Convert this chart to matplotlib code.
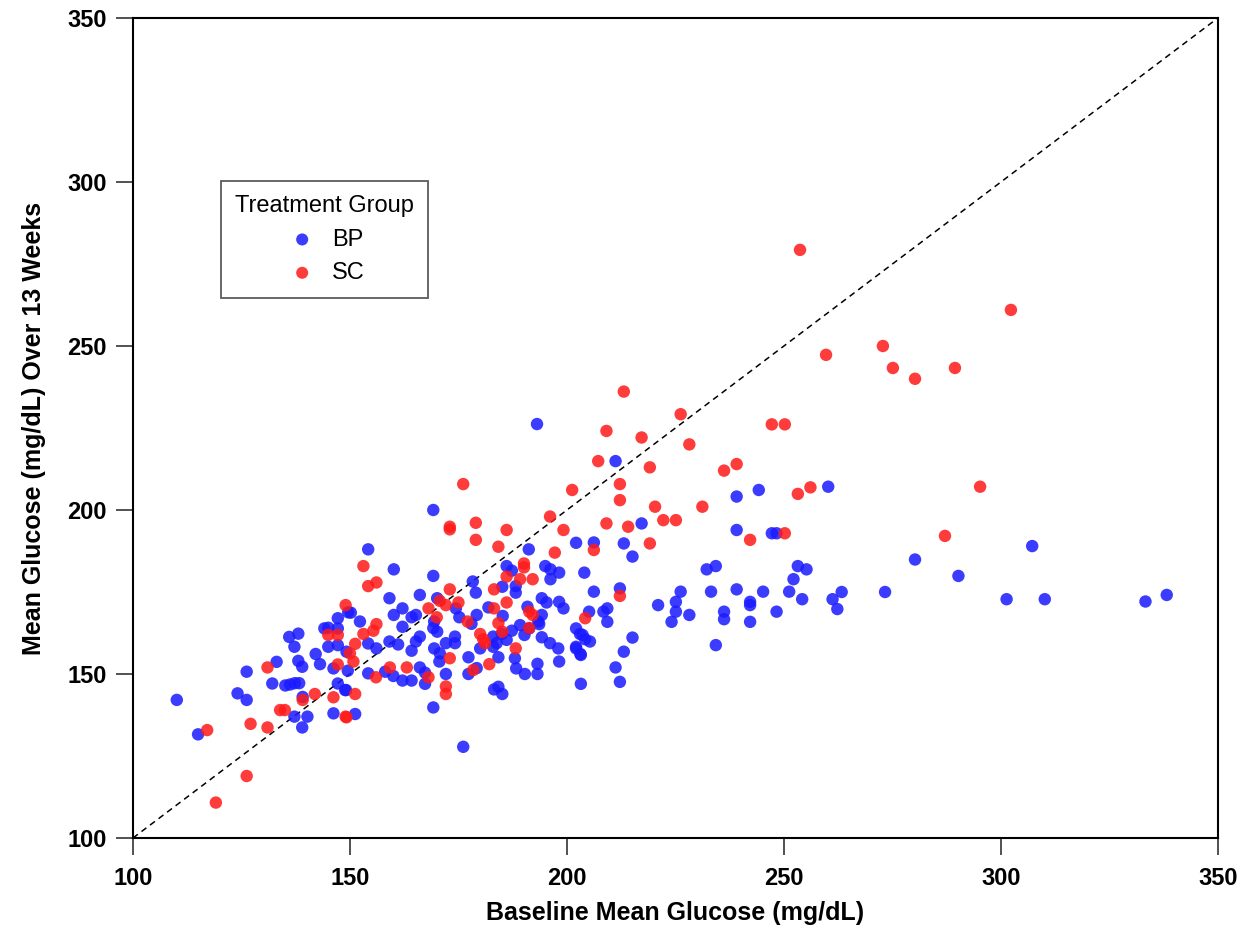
import matplotlib
matplotlib.use("Agg")
import matplotlib.pyplot as plt

plt.rcParams['font.family'] = ['Liberation Sans', 'DejaVu Sans']

# Treatment group BP (baseline, 13-week mean)
bp_x = [110.1,115.0,126.2,124.1,126.2,133.1,132.1,135.1,136.2,137.3,138.3,139.1,137.2,140.2,139.0,146.2,149.1,147.2,
        138.1,136.0,137.2,138.1,139.0,142.1,143.1,144.1,145.0,147.2,147.2,145.0,147.2,146.2,149.6,149.5,
        169.2,202.1,191.2,154.2,160.1,169.2,204.0,186.1,187.3,195.0,196.2,198.2,196.2,188.2,185.1,188.2,178.3,179.0,
        159.1,166.1,170.1,194.2,195.3,198.2,199.2,150.2,162.1,160.1,164.2,165.2,174.4,181.9,175.2,179.2,185.2,190.9,
        194.2,193.4,152.3,162.1,169.4,169.2,170.1,178.0,154.2,149.2,156.1,159.1,161.1,166.1,165.2,164.2,169.4,172.1,
        174.2,174.2,170.7,170.6,172.1,154.2,158.1,160.0,162.1,164.2,166.1,167.3,167.3,177.3,177.3,179.2,180.0,183.0,
        183.8,183.0,186.1,185.0,187.3,189.2,184.2,188.0,188.3,190.3,193.2,193.2,190.2,191.3,193.6,194.2,196.1,198.0,
        198.2,203.0,204.2,202.1,203.1,203.2,183.2,185.1,184.2,169.2,151.2,148.9,176.1,
        211.2,239.1,244.2,217.2,239.1,247.2,248.3,206.2,213.1,215.1,206.2,212.2,205.1,208.4,209.3,209.3,202.1,203.6,
        205.3,202.1,203.2,215.1,213.1,211.2,212.2,221.0,226.2,225.1,225.1,224.1,228.2,232.2,234.3,233.2,239.1,236.2,
        236.2,242.2,242.2,242.2,245.2,234.3,248.3,251.2,252.2,253.2,255.2,254.2,193.1,
        260.2,307.2,280.2,290.2,261.2,263.3,262.3,273.3,301.3,310.1,333.3,338.2]
bp_y = [142.1,131.6,150.7,144.1,142.1,153.7,147.1,146.5,146.8,147.2,147.2,143.0,137.0,137.0,133.7,138.0,145.1,147.1,
        162.3,161.3,158.3,154.0,152.2,156.1,153.0,163.9,164.1,163.9,167.0,158.3,158.8,151.7,168.8,151.0,
        200.0,190.0,188.0,188.0,181.9,179.9,180.9,182.9,181.5,182.9,181.9,180.9,178.9,176.8,176.6,174.8,178.2,174.8,
        173.1,174.1,173.1,173.1,171.8,172.0,170.0,168.7,170.0,168.0,167.3,168.0,170.0,170.3,167.3,168.0,167.7,170.5,
        168.0,166.0,166.0,164.4,166.0,164.0,162.9,165.3,159.3,156.8,157.8,159.9,159.0,161.4,159.9,157.1,157.8,159.4,
        159.4,161.4,156.3,153.8,150.0,150.2,150.7,149.4,148.0,148.0,152.0,150.4,147.0,155.1,150.0,151.8,157.8,161.4,
        159.4,158.3,160.4,162.2,163.2,164.9,155.1,154.8,151.7,150.0,153.1,150.0,161.9,163.9,165.2,161.2,159.4,157.8,
        153.8,162.2,160.6,157.8,156.1,147.0,145.3,143.9,146.1,139.8,137.8,145.1,127.8,
        214.9,204.1,206.1,195.9,193.9,192.9,192.9,190.1,189.8,185.8,175.1,176.1,169.0,169.0,170.0,165.9,163.9,161.9,
        159.9,158.3,155.8,161.1,156.8,152.0,147.6,171.0,175.1,172.0,169.0,165.9,168.0,181.9,182.9,175.1,175.8,169.0,
        166.7,172.0,171.0,165.9,175.1,158.8,169.0,175.1,178.9,182.9,181.9,172.8,226.2,
        207.1,189.0,184.9,179.9,172.8,175.0,169.8,175.0,172.8,172.8,172.1,174.1]

# Treatment group SC
sc_x = [117.1,119.1,126.2,127.1,131.0,131.0,139.1,133.9,135.0,141.9,146.2,149.0,145.0,147.2,147.2,149.0,
        176.1,201.2,173.0,173.0,179.0,179.0,186.1,184.2,196.1,199.2,197.2,153.1,154.2,156.1,190.1,190.1,186.1,189.2,
        192.1,183.2,173.0,170.7,172.1,175.0,186.1,168.1,183.2,170.0,191.3,192.1,156.1,177.1,155.4,153.1,151.2,150.0,
        150.8,173.0,159.2,163.1,156.0,168.1,172.1,172.1,178.4,180.0,180.7,181.1,184.2,185.1,188.2,182.1,204.2,149.2,151.2,
        191.3,
        213.1,226.2,209.1,217.2,228.2,247.2,250.2,207.2,219.1,236.2,239.1,212.2,212.2,253.2,256.1,220.3,231.2,209.1,
        214.1,222.2,225.1,242.2,250.2,206.2,219.1,212.2,
        280.2,295.2,287.1,302.3,253.7,272.8,275.1,289.4,259.7]
sc_y = [132.9,110.8,118.9,134.8,133.7,152.0,142.1,139.0,139.0,143.9,142.9,137.0,161.9,161.9,152.9,171.0,
        207.9,206.1,194.9,194.1,196.1,190.9,193.9,188.8,198.0,193.9,187.0,182.9,176.8,177.9,183.7,182.5,179.7,178.9,
        178.9,175.8,175.8,172.3,171.0,171.8,171.8,170.0,170.0,167.3,169.0,168.0,165.2,166.0,163.2,162.2,159.2,156.3,
        153.8,154.8,152.0,152.0,149.0,149.0,146.2,143.9,151.2,162.2,160.6,159.4,165.5,162.9,157.8,153.0,167.0,136.8,143.9,
        164.0,
        236.1,229.2,224.1,222.1,220.0,226.1,226.1,214.9,213.0,212.0,214.0,207.9,203.0,204.9,206.9,201.0,201.0,195.9,
        194.9,196.9,196.9,190.9,192.9,187.8,189.8,173.8,
        240.0,207.1,192.1,261.0,279.3,250.0,243.3,243.3,247.3]

x_ticks = [100, 150, 200, 250, 300, 350]
y_ticks = [100, 150, 200, 250, 300, 350]

fig = plt.figure(figsize=(12.52, 9.36), dpi=100)
ax = fig.add_axes([0.1062, 0.1047, 0.8666, 0.8761])

ax.plot([100, 350], [100, 350], linestyle=(0, (4, 3)), color='black', linewidth=1.1, zorder=1)
ax.scatter(bp_x, bp_y, s=80, color='#1a1aff', alpha=0.85, edgecolors='none', label='BP', zorder=2)
ax.scatter(sc_x, sc_y, s=80, color='#ff1a1a', alpha=0.85, edgecolors='none', label='SC', zorder=3)

ax.set_xlim(100, 350)
ax.set_ylim(100, 350)
ax.set_xticks(x_ticks)
ax.set_yticks(y_ticks)
ax.set_xticklabels([str(t) for t in x_ticks], fontweight='bold', fontsize=17)
ax.set_yticklabels([str(t) for t in y_ticks], fontweight='bold', fontsize=17)
ax.tick_params(axis='both', direction='out', length=12, width=1.2, color='#333333')
ax.tick_params(axis='x', pad=9)
ax.tick_params(axis='y', pad=7)
for sp in ax.spines.values():
    sp.set_linewidth(1.5)

ax.set_xlabel('Baseline Mean Glucose (mg/dL)', fontweight='bold', fontsize=18, labelpad=8)
ax.set_ylabel('Mean Glucose (mg/dL) Over 13 Weeks', fontweight='bold', fontsize=18, labelpad=15)

leg = ax.legend(title='Treatment Group', loc='upper left', bbox_to_anchor=(0.081, 0.801),
                borderaxespad=0, fontsize=17, title_fontsize=17, frameon=True, fancybox=False,
                handletextpad=0.5, borderpad=0.6, labelspacing=0.48, handlelength=1.5)
leg.get_frame().set_edgecolor('#333333')
leg.get_frame().set_linewidth(1.3)
for h in leg.legend_handles:
    h.set_sizes([75])

fig.savefig('out.png', dpi=100)
